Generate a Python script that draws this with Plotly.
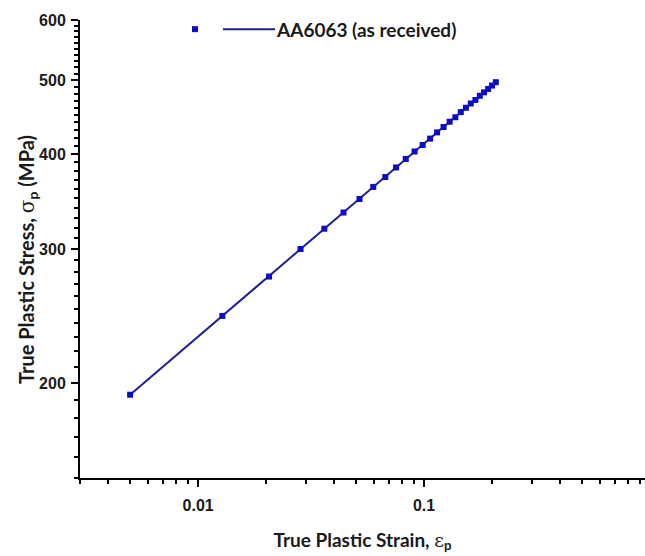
import plotly.graph_objects as go
import numpy as np

# Data
strain = [0.005, 0.0128, 0.0206, 0.0284, 0.0362, 0.044, 0.0518, 0.0596, 0.0674,
          0.0752, 0.083, 0.0908, 0.0986, 0.1064, 0.1142, 0.122, 0.1298, 0.1376,
          0.1454, 0.1532, 0.161, 0.1688, 0.1766, 0.1844, 0.1922, 0.2, 0.2078]
stress = [193, 245, 276, 300, 319, 335, 349, 362, 373,
          384, 394, 403, 411, 419, 427, 434, 441, 447,
          454, 460, 466, 471, 477, 482, 487, 492, 497]
series_name = "AA6063 (as received)"

x_major = [0.01, 0.1, 1]
x_major_labels = ["0.01", "0.1", "1"]
x_minor = [0.003, 0.004, 0.005, 0.006, 0.007, 0.008, 0.009,
           0.02, 0.03, 0.04, 0.05, 0.06, 0.07, 0.08, 0.09,
           0.2, 0.3, 0.4, 0.5, 0.6, 0.7, 0.8, 0.9]
y_major = [200, 300, 400, 500, 600]
y_minor = [150, 160, 170, 180, 190, 210, 220, 230, 240, 250, 260, 270, 280, 290,
           310, 320, 330, 340, 350, 360, 370, 380, 390,
           410, 420, 430, 440, 450, 460, 470, 480, 490,
           510, 520, 530, 540, 550, 560, 570, 580, 590]

LINE_COLOR = "#1f1f96"
MARKER_COLOR = "#0c0cc4"
TEXT_COLOR = "#1a1a1a"
TICK_FONT = dict(family="Arial, Liberation Sans", size=16, color=TEXT_COLOR, weight="bold")
XTITLE_FONT = dict(family="Lato, Open Sans", size=19, color=TEXT_COLOR)
YTITLE_FONT = dict(family="Lato, Open Sans", size=20, color=TEXT_COLOR)

fig = go.Figure()
fig.add_trace(go.Scatter(x=strain, y=stress, mode="lines",
                         line=dict(color=LINE_COLOR, width=2), showlegend=False))
fig.add_trace(go.Scatter(x=strain, y=stress, mode="markers",
                         marker=dict(symbol="square", size=6, color=MARKER_COLOR),
                         showlegend=False))

axis_common = dict(type="log", showgrid=False, zeroline=False, showline=True,
                   linecolor="black", linewidth=2, ticks="outside", ticklen=7,
                   tickwidth=2, tickcolor="black", tickfont=TICK_FONT, mirror=False)

fig.update_xaxes(**axis_common,
                 range=[np.log10(0.003), -0.022],
                 tickmode="array", tickvals=x_major, ticktext=x_major_labels,
                 ticklabelstandoff=5,
                 minor=dict(tickmode="array", tickvals=x_minor, ticks="outside",
                            ticklen=4, tickwidth=2, tickcolor="black"),
                 title=dict(text='<b>True Plastic Strain, </b><span style="font-family:DejaVu Serif">ε</span><sub><b>p</b></sub>',
                            font=XTITLE_FONT, standoff=20))
fig.update_yaxes(**axis_common,
                 range=[np.log10(150), np.log10(600)],
                 tickmode="array", tickvals=y_major, ticktext=[str(v) for v in y_major],
                 ticklabelstandoff=2,
                 minor=dict(tickmode="array", tickvals=y_minor, ticks="outside",
                            ticklen=4, tickwidth=2, tickcolor="black"))

# Y-axis title placed as an annotation for precise positioning
fig.add_annotation(xref="paper", yref="paper", x=-0.092, y=0.476,
                   xanchor="center", yanchor="middle", textangle=-90, showarrow=False,
                   text='<b>True Plastic Stress, </b><span style="font-family:DejaVu Serif">σ</span><sub><b>p</b></sub><b> (MPa)</b>',
                   font=YTITLE_FONT)

# Legend drawn as layout decoration (Origin-style: marker, then line, then text)
fig.add_shape(type="rect", xref="paper", yref="paper", xsizemode="pixel", ysizemode="pixel",
              xanchor=0.2035, yanchor=0.980, x0=-3, x1=3, y0=-3, y1=3,
              fillcolor=MARKER_COLOR, line=dict(width=0))
fig.add_shape(type="line", xref="paper", yref="paper",
              x0=0.2531, x1=0.3451, y0=0.980, y1=0.980,
              line=dict(color=LINE_COLOR, width=2))
fig.add_annotation(xref="paper", yref="paper", x=0.3425, y=0.980,
                   xanchor="left", yanchor="middle", showarrow=False,
                   text="<b>" + series_name + "</b>",
                   font=dict(family="Lato, Open Sans", size=19, color=TEXT_COLOR))

fig.update_layout(width=645, height=556, plot_bgcolor="white", paper_bgcolor="white",
                  margin=dict(l=80, r=0, t=20, b=78), showlegend=False)

fig.write_html("out.html")
